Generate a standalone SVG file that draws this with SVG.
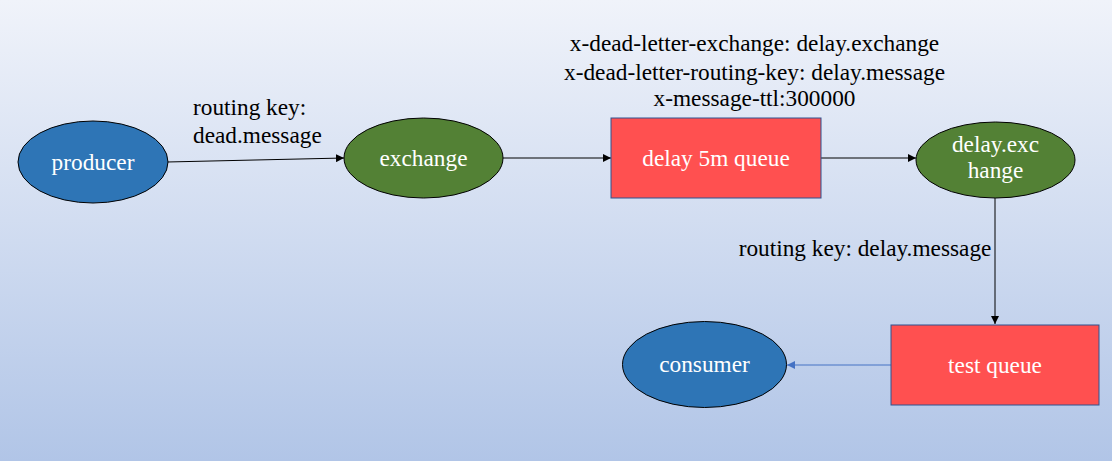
<svg xmlns="http://www.w3.org/2000/svg" width="1112" height="461" viewBox="0 0 1112 461">
<defs>
<linearGradient id="bg" x1="0" y1="0" x2="0" y2="1">
<stop offset="0" stop-color="#F0F3FA"/>
<stop offset="1" stop-color="#B1C5E7"/>
</linearGradient>
<marker id="ah" viewBox="0 0 10 10" refX="10" refY="5" markerWidth="8" markerHeight="8" markerUnits="userSpaceOnUse" orient="auto">
<path d="M0,0 L10,5 L0,10 z" fill="#000"/>
</marker>
<marker id="ahb" viewBox="0 0 10 10" refX="10" refY="5" markerWidth="8" markerHeight="8" markerUnits="userSpaceOnUse" orient="auto">
<path d="M0,0 L10,5 L0,10 z" fill="#4472C4"/>
</marker>
</defs>
<style>
text{font-family:'Liberation Serif',Tinos,'Times New Roman','DejaVu Serif',serif}
.t{font-size:23.3px;fill:#000}
.w{font-size:23.3px;fill:#fff;text-anchor:middle}
.blue{fill:#2E75B6;stroke:#000;stroke-width:1}
.green{fill:#538135;stroke:#000;stroke-width:1}
.red{fill:#FF5050;stroke:#2F528F;stroke-width:1}
.c{stroke:#000;stroke-width:1;fill:none;marker-end:url(#ah)}
</style>
<rect x="0" y="0" width="1112" height="461" fill="url(#bg)"/>
<g id="connectors">
<line class="c" x1="167" y1="162" x2="344" y2="158"/>
<line class="c" x1="503" y1="158" x2="611" y2="158"/>
<line class="c" x1="821" y1="158" x2="916" y2="158"/>
<line class="c" x1="995" y1="198" x2="995" y2="324"/>
<line x1="891" y1="365" x2="787" y2="365" stroke="#4472C4" stroke-width="1" marker-end="url(#ahb)"/>
</g>
<g id="labels">
<text class="t" x="193" y="115">routing key:</text>
<text class="t" x="193" y="143">dead.message</text>
<text class="t" x="754.5" y="51" text-anchor="middle">x-dead-letter-exchange: delay.exchange</text>
<text class="t" x="754.5" y="80" text-anchor="middle">x-dead-letter-routing-key: delay.message</text>
<text class="t" x="754.5" y="106" text-anchor="middle">x-message-ttl:300000</text>
<text class="t" x="865" y="256" text-anchor="middle">routing key: delay.message</text>
</g>
<g id="producer">
<ellipse class="blue" cx="93" cy="162" rx="75" ry="41"/>
<text class="w" x="93" y="170">producer</text>
</g>
<g id="exchange">
<ellipse class="green" cx="423.5" cy="158" rx="79.5" ry="40"/>
<text class="w" x="423.5" y="166">exchange</text>
</g>
<g id="delay-queue">
<rect class="red" x="611" y="118" width="210" height="80"/>
<text class="w" x="716" y="166">delay 5m queue</text>
</g>
<g id="delay-exchange">
<ellipse class="green" cx="995.5" cy="160" rx="79.5" ry="38"/>
<text class="w" x="995.5" y="152">delay.exc</text>
<text class="w" x="995.5" y="178">hange</text>
</g>
<g id="test-queue">
<rect class="red" x="891" y="325" width="208" height="80"/>
<text class="w" x="995" y="373">test queue</text>
</g>
<g id="consumer">
<ellipse class="blue" cx="704.5" cy="364.5" rx="82" ry="43"/>
<text class="w" x="704.5" y="372">consumer</text>
</g>
</svg>
